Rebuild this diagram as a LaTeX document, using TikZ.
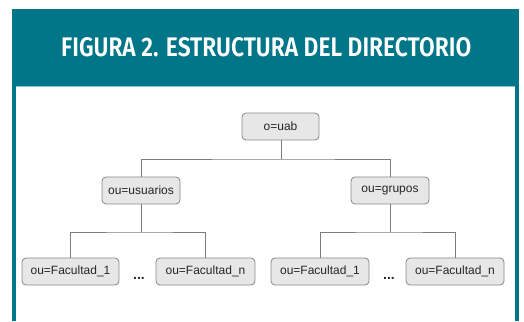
\documentclass[tikz,border=0pt]{standalone}
\usepackage{fontspec}
\setmainfont{Liberation Sans}
\newfontfamily\titlefont{Fira Sans}[UprightFont=* SemiBold]
\definecolor{teal1}{RGB}{0,118,136}
\definecolor{boxfill}{RGB}{231,231,231}
\definecolor{boxline}{RGB}{135,135,135}
\definecolor{linegray}{RGB}{125,125,125}
\tikzset{
  dirbox/.style={draw=boxline, fill=boxfill, rounded corners=4pt, line width=0.8pt,
    minimum height=27pt, inner sep=0pt, font=\fontsize{12}{14}\selectfont, text=black!85},
  conn/.style={draw=linegray, line width=0.8pt},
  dotsnode/.style={font=\bfseries\fontsize{14}{16}\selectfont, text=black!85, inner sep=0pt},
}
\begin{document}
\begin{tikzpicture}[x=1pt,y=1pt]
\useasboundingbox (0,0) rectangle (524,321);
% header and frame
\fill[teal1] (12,312) rectangle (519,235);
\fill[teal1] (12,235) rectangle (16,0);
\fill[teal1] (515,235) rectangle (519,0);
\draw[teal1!45, line width=0.6pt] (16,234.5) -- (515,234.5);
\node[anchor=base west, inner sep=0pt, text=white] (title) at (61,264)
  {\resizebox{410pt}{19pt}{\titlefont FIGURA 2. ESTRUCTURA DEL DIRECTORIO}};
% nodes
\node[dirbox, minimum width=77pt] (uab) at (280.5,194.5) {o=uab};
\node[dirbox, minimum width=78pt] (usuarios) at (141,130.5) {ou=usuarios};
\node[dirbox, minimum width=78pt] (grupos) at (390,130.5) {ou=grupos};
\node[dirbox, minimum width=97pt] (f1l) at (70.5,49.5) {ou=Facultad\_1};
\node[dirbox, minimum width=99pt] (fnl) at (205.5,49.5) {ou=Facultad\_n};
\node[dirbox, minimum width=98pt] (f1r) at (320,49.5) {ou=Facultad\_1};
\node[dirbox, minimum width=98pt] (fnr) at (455,49.5) {ou=Facultad\_n};
\node[dotsnode] (dl) at (139,43) {...};
\node[dotsnode] (dr) at (389,43) {...};
% junctions
\coordinate (j1) at (281,162);
\coordinate (j2) at (141,89);
\coordinate (j3) at (390,89);
% connectors
\draw[conn] (uab.south -| j1) -- (j1);
\draw[conn] (usuarios.north) |- (j1) -| (grupos.north);
\draw[conn] (usuarios.south) -- (j2);
\draw[conn] (f1l.north) |- (j2) -| (fnl.north);
\draw[conn] (grupos.south) -- (j3);
\draw[conn] (f1r.north) |- (j3) -| (fnr.north);
\end{tikzpicture}
\end{document}
